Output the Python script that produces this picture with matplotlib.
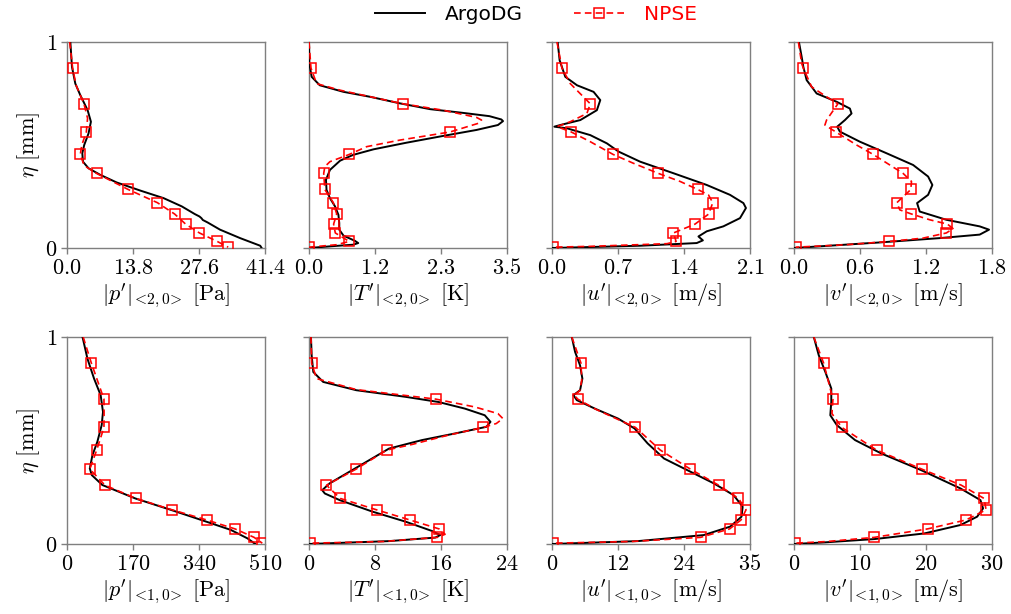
import numpy as np
import matplotlib
matplotlib.use("Agg")
import matplotlib.pyplot as plt
from matplotlib.lines import Line2D

plt.rcParams["mathtext.fontset"] = "cm"
plt.rcParams["font.family"] = ["DejaVu Sans"]

# Heights (eta, mm) where NPSE markers are shown
ETA_MARK = [0.873, 0.70, 0.563, 0.454, 0.362, 0.284, 0.22, 0.165, 0.116, 0.073, 0.032, 0.004]

# ---- mode <2,0> ----
p20_dg_eta = [1, 0.879, 0.798, 0.742, 0.669, 0.613, 0.556, 0.5, 0.46, 0.419, 0.387, 0.355, 0.318,
              0.279, 0.242, 0.202, 0.165, 0.153, 0.145, 0.136, 0.124, 0.089, 0.048, 0.011, 0]
p20_dg = [0.7, 1.04, 1.74, 2.78, 4.31, 5.0, 4.5, 3.6, 3.2, 3.34, 4.5, 6.96, 10.4,
          15.3, 20.2, 24.0, 26.7, 27.7, 28.1, 28.4, 29.4, 32.0, 36.2, 40.4, 40.7]
p20_np_eta = [1, 0.873, 0.79, 0.70, 0.63, 0.563, 0.50, 0.454, 0.40, 0.362, 0.284, 0.22, 0.165,
              0.116, 0.073, 0.032, 0.004]
p20_np = [0.56, 1.18, 1.9, 3.55, 4.3, 4.04, 3.1, 2.78, 3.6, 6.19, 12.8, 18.9, 22.5,
          24.8, 27.7, 31.4, 33.7]

T20_dg_eta = [1, 0.895, 0.831, 0.79, 0.758, 0.734, 0.702, 0.674, 0.656, 0.64, 0.624, 0.616, 0.597,
              0.573, 0.544, 0.511, 0.479, 0.452, 0.424, 0.379, 0.331, 0.282, 0.242, 0.202, 0.161,
              0.121, 0.089, 0.06, 0.035, 0.024, 0.016, 0.008, 0]
T20_dg = [0, 0.006, 0.047, 0.19, 0.61, 1.08, 1.61, 2.14, 2.72, 3.19, 3.40, 3.43, 3.34,
          2.96, 2.37, 1.72, 1.14, 0.78, 0.55, 0.37, 0.30, 0.31, 0.37, 0.46, 0.52,
          0.535, 0.535, 0.61, 0.81, 0.87, 0.78, 0.37, 0]
T20_np_eta = [1, 0.873, 0.798, 0.766, 0.70, 0.669, 0.634, 0.621, 0.605, 0.563, 0.524, 0.492, 0.454,
              0.419, 0.395, 0.362, 0.284, 0.22, 0.165, 0.116, 0.073, 0.032, 0.016, 0.004]
T20_np = [0, 0.035, 0.135, 0.55, 1.66, 2.37, 2.96, 3.05, 2.99, 2.49, 1.61, 1.02, 0.71,
          0.37, 0.28, 0.26, 0.28, 0.43, 0.49, 0.435, 0.465, 0.71, 0.49, 0.0]

u20_dg_eta = [1, 0.911, 0.831, 0.79, 0.758, 0.718, 0.669, 0.621, 0.597, 0.589, 0.581, 0.548, 0.508,
              0.468, 0.419, 0.363, 0.306, 0.258, 0.218, 0.194, 0.145, 0.105, 0.081, 0.056, 0.037,
              0.024, 0.011, 0]
u20_dg = [0.06, 0.081, 0.141, 0.265, 0.441, 0.512, 0.476, 0.30, 0.088, 0.025, 0.159, 0.406, 0.582,
          0.706, 0.935, 1.288, 1.641, 1.888, 2.03, 2.057, 1.994, 1.817, 1.641, 1.553, 1.60,
          1.535, 0.935, 0]
u20_np_eta = [1, 0.873, 0.798, 0.70, 0.653, 0.613, 0.589, 0.563, 0.516, 0.454, 0.411, 0.362, 0.323,
              0.284, 0.258, 0.22, 0.165, 0.116, 0.073, 0.032, 0.021, 0.008, 0.004]
u20_np = [0.053, 0.106, 0.194, 0.406, 0.37, 0.194, 0.053, 0.205, 0.406, 0.649, 0.865, 1.129, 1.359,
          1.546, 1.659, 1.705, 1.662, 1.517, 1.288, 1.316, 1.22, 0.406, 0.007]

v20_dg_eta = [1, 0.927, 0.879, 0.815, 0.75, 0.71, 0.677, 0.653, 0.621, 0.589, 0.565, 0.516, 0.46,
              0.403, 0.347, 0.306, 0.258, 0.218, 0.177, 0.137, 0.105, 0.089, 0.065, 0.048, 0.027, 0]
v20_dg = [0.045, 0.07, 0.085, 0.115, 0.206, 0.387, 0.508, 0.523, 0.463, 0.393, 0.417, 0.599, 0.841,
          1.083, 1.219, 1.258, 1.219, 1.119, 1.143, 1.385, 1.688, 1.773, 1.688, 1.325, 0.78, 0]
v20_np_eta = [1, 0.895, 0.873, 0.782, 0.734, 0.70, 0.621, 0.597, 0.563, 0.50, 0.454, 0.403, 0.362,
              0.323, 0.284, 0.22, 0.185, 0.165, 0.137, 0.116, 0.094, 0.073, 0.048, 0.032, 0.016, 0.004]
v20_np = [0.04, 0.07, 0.085, 0.16, 0.296, 0.399, 0.296, 0.281, 0.381, 0.569, 0.72, 0.871, 0.992,
          1.068, 1.062, 0.935, 0.962, 1.068, 1.234, 1.395, 1.446, 1.385, 1.174, 0.868, 0.478, 0.015]

# ---- mode <1,0> ----
p10_dg_eta = [1, 0.895, 0.799, 0.719, 0.638, 0.574, 0.494, 0.429, 0.365, 0.333, 0.285, 0.22, 0.164,
              0.116, 0.068, 0.027, 0]
p10_dg = [40, 52.7, 69.7, 86.7, 92.7, 89.3, 78.2, 65.5, 58.7, 63.8, 91, 176, 269,
          346, 422, 465, 485]
p10_np_eta = [1, 0.873, 0.70, 0.638, 0.563, 0.454, 0.362, 0.284, 0.22, 0.165, 0.116, 0.073, 0.032, 0.004]
p10_np = [41.7, 62.9, 95.2, 95.5, 95.2, 76.5, 58.7, 97.8, 177.7, 271, 360, 432.7, 482, 503]

T10_dg_eta = [1, 0.912, 0.831, 0.783, 0.743, 0.711, 0.686, 0.654, 0.622, 0.59, 0.566, 0.534, 0.502,
              0.461, 0.405, 0.349, 0.293, 0.26, 0.244, 0.212, 0.156, 0.108, 0.063, 0.043, 0.031,
              0.014, 0]
T10_dg = [0.24, 0.32, 0.52, 1.72, 5.72, 11.7, 15.7, 18.9, 21.3, 22.0, 21.5, 17.7, 13.7,
          9.7, 7.3, 4.9, 2.5, 1.6, 1.92, 3.72, 7.72, 11.7, 14.9, 15.9, 15.3,
          9.72, 0]
T10_np_eta = [1, 0.873, 0.799, 0.746, 0.70, 0.662, 0.63, 0.606, 0.582, 0.563, 0.526, 0.481, 0.454,
              0.362, 0.284, 0.22, 0.165, 0.116, 0.073, 0.047, 0.032, 0.012, 0.004]
T10_np = [0.24, 0.32, 0.92, 5.72, 15.36, 20.1, 22.9, 23.5, 22.7, 21.1, 16.9, 12.5, 9.44,
          5.72, 2.12, 3.8, 8.2, 12.24, 15.76, 16.5, 15.56, 9.0, 0.12]

u10_dg_eta = [1, 0.928, 0.863, 0.799, 0.743, 0.719, 0.695, 0.654, 0.606, 0.558, 0.486, 0.413, 0.357,
              0.293, 0.236, 0.18, 0.132, 0.084, 0.043, 0.014, 0]
u10_dg = [3.5, 4.08, 4.96, 5.37, 4.96, 3.79, 4.38, 7.58, 11.67, 14.6, 16.9, 19.8, 23.9,
          28.6, 32.1, 33.7, 33.5, 31.5, 26.8, 15.2, 0]
u10_np_eta = [1, 0.873, 0.791, 0.74, 0.72, 0.70, 0.65, 0.563, 0.454, 0.362, 0.284, 0.22, 0.165,
              0.116, 0.073, 0.032, 0.012, 0.004]
u10_np = [3.5, 5.13, 5.25, 4.9, 3.9, 4.55, 7.8, 14.76, 19.13, 24.44, 29.46, 32.96, 34.3,
          33.4, 31.4, 26.25, 14.0, 0.12]

v10_dg_eta = [1, 0.912, 0.831, 0.751, 0.686, 0.622, 0.574, 0.502, 0.437, 0.357, 0.268, 0.212, 0.172,
              0.132, 0.092, 0.051, 0.024, 0.008, 0]
v10_dg = [3.0, 3.75, 4.75, 5.65, 5.65, 5.5, 6.5, 9.25, 13.25, 19.25, 25.25, 28.25, 28.65,
          27.75, 25.25, 19.75, 12.25, 4.75, 0]
v10_np_eta = [1, 0.873, 0.70, 0.63, 0.563, 0.454, 0.362, 0.284, 0.22, 0.165, 0.116, 0.073, 0.032,
              0.012, 0.004]
v10_np = [3, 4.5, 5.9, 5.75, 7.25, 12.5, 19.35, 25.35, 28.8, 29.1, 26.05, 20.25, 12.15,
          5.0, 0.1]

# Axis ranges and tick labels
x_max = [41.4, 3.5, 2.1, 1.8, 510, 24, 35, 30]
x_ticklabels = [
    ["0.0", "13.8", "27.6", "41.4"],
    ["0.0", "1.2", "2.3", "3.5"],
    ["0.0", "0.7", "1.4", "2.1"],
    ["0.0", "0.6", "1.2", "1.8"],
    ["0", "170", "340", "510"],
    ["0", "8", "16", "24"],
    ["0", "12", "24", "35"],
    ["0", "10", "20", "30"],
]
quantities = ["p", "T", "u", "v", "p", "T", "u", "v"]
modes = ["2,0", "2,0", "2,0", "2,0", "1,0", "1,0", "1,0", "1,0"]
units = ["Pa", "K", "m/s", "m/s", "Pa", "K", "m/s", "m/s"]

dg_sets = [(p20_dg_eta, p20_dg), (T20_dg_eta, T20_dg), (u20_dg_eta, u20_dg), (v20_dg_eta, v20_dg),
           (p10_dg_eta, p10_dg), (T10_dg_eta, T10_dg), (u10_dg_eta, u10_dg), (v10_dg_eta, v10_dg)]
np_sets = [(p20_np_eta, p20_np), (T20_np_eta, T20_np), (u20_np_eta, u20_np), (v20_np_eta, v20_np),
           (p10_np_eta, p10_np), (T10_np_eta, T10_np), (u10_np_eta, u10_np), (v10_np_eta, v10_np)]

W, H = 1011, 614
fig = plt.figure(figsize=(W / 100, H / 100), dpi=100)

lefts = [67, 309, 552, 794]
row_box = [(248, 206), (544, 207)]  # (bottom pixel, height pixel)
spine_col = "#7f7f7f"

for k in range(8):
    r, c = divmod(k, 4)
    bot, hh = row_box[r]
    ax = fig.add_axes([lefts[c] / W, (H - bot) / H, 198 / W, hh / H])
    e_dg, x_dg = dg_sets[k]
    e_np, x_np = np_sets[k]
    ax.plot(x_dg, e_dg, color="black", lw=1.4, zorder=3)
    marks = [i for i, e in enumerate(e_np) if np.any(np.isclose(e, ETA_MARK))]
    ax.plot(x_np, e_np, color="red", lw=1.2, ls=(0, (4, 2.5)), marker="s", markevery=marks,
            ms=6.5, mfc="none", mec="red", mew=1.1, zorder=4)
    ax.set_xlim(0, x_max[k])
    ax.set_ylim(0, 1)
    ax.set_xticks(np.linspace(0, x_max[k], 4))
    ax.set_xticklabels([f"${t}$" for t in x_ticklabels[k]])
    ax.set_yticks([0, 1])
    if c == 0:
        ax.set_yticklabels(["$0$", "$1$"])
        ax.set_ylabel(r"$\eta\ \mathrm{[mm]}$", fontsize=16, labelpad=2)
    else:
        ax.set_yticklabels([])
    label = (r"$|" + quantities[k] + r"^{\prime}|_{\!<\!" + modes[k] + r"\!>}\ \mathrm{["
             + units[k] + r"]}$")
    ax.set_xlabel(label, fontsize=16, labelpad=3)
    ax.tick_params(direction="out", length=4, width=1, color=spine_col, labelsize=16, pad=3)
    for s in ax.spines.values():
        s.set_color(spine_col)
        s.set_linewidth(1.0)

handles = [
    Line2D([], [], color="black", lw=1.4),
    Line2D([], [], color="red", lw=1.2, ls=(0, (4, 2.5)), marker="s", ms=6.5, mfc="none",
           mec="red", mew=1.1),
]
leg = fig.legend(handles, ["ArgoDG", "NPSE"], loc="center", bbox_to_anchor=(0.53, 0.976),
                 ncol=2, frameon=False, fontsize=14.5, handlelength=2.5, handletextpad=1.0,
                 columnspacing=2.5, numpoints=1)
for txt, col in zip(leg.get_texts(), ["black", "red"]):
    txt.set_color(col)

fig.savefig("out.png", dpi=100)
